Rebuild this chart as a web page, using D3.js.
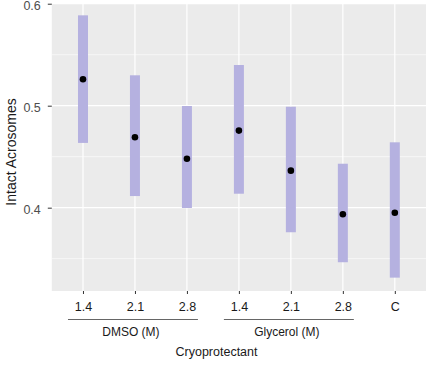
<!DOCTYPE html>
<html><head><meta charset="utf-8">
<script src="https://cdn.jsdelivr.net/npm/d3@7"></script>
<style>body{margin:0;background:#fff}svg{display:block}text{font-family:"Liberation Sans",Arial,sans-serif;}</style>
</head><body>
<svg id="c" width="426" height="368"></svg>
<script>
const categories = ["DMSO 1.4","DMSO 2.1","DMSO 2.8","Glycerol 1.4","Glycerol 2.1","Glycerol 2.8","C"];
const tickLabels = ["1.4","2.1","2.8","1.4","2.1","2.8","C"];
const means = [0.526, 0.469, 0.448, 0.4756, 0.4363, 0.3935, 0.3951];
const lower = [0.4635, 0.4114, 0.3997, 0.4137, 0.3759, 0.3465, 0.3314];
const upper = [0.5886, 0.5298, 0.4997, 0.5399, 0.499, 0.4431, 0.4641];
const groups = [
  {label:"DMSO (M)", from:"DMSO 1.4", to:"DMSO 2.8"},
  {label:"Glycerol (M)", from:"Glycerol 1.4", to:"Glycerol 2.8"}
];
const yTicks = [0.4, 0.5, 0.6];
const yMinor = [0.35, 0.45, 0.55];

const svg = d3.select("#c");
const L = 51.8, R = 426, T = 3, B = 291;
const x = d3.scalePoint().domain(categories).range([L, R]).padding(0.6);
const y = d3.scaleLinear().domain([0.3183, 0.6007]).range([B, T]);

svg.append("rect").attr("x", L).attr("y", T).attr("width", R - L).attr("height", B - T).attr("fill", "#ebebeb");
svg.append("g").selectAll("line").data(yMinor).join("line")
  .attr("x1", L).attr("x2", R).attr("y1", d => y(d)).attr("y2", d => y(d))
  .attr("stroke", "#fff").attr("stroke-width", 0.6);
svg.append("g").selectAll("line").data(yTicks).join("line")
  .attr("x1", L).attr("x2", R).attr("y1", d => y(d)).attr("y2", d => y(d))
  .attr("stroke", "#fff").attr("stroke-width", 1.2);
svg.append("g").selectAll("line").data(categories).join("line")
  .attr("x1", d => x(d)).attr("x2", d => x(d)).attr("y1", T).attr("y2", B)
  .attr("stroke", "#fff").attr("stroke-width", 1.2);

const data = categories.map((c, i) => ({c, m: means[i], lo: lower[i], hi: upper[i]}));
svg.append("g").selectAll("rect").data(data).join("rect")
  .attr("x", d => x(d.c) - 5).attr("width", 10)
  .attr("y", d => y(d.hi)).attr("height", d => y(d.lo) - y(d.hi))
  .attr("fill", "#b5b1e0");
svg.append("g").selectAll("circle").data(data).join("circle")
  .attr("cx", d => x(d.c)).attr("cy", d => y(d.m)).attr("r", 3.3).attr("fill", "#000");

// y axis
const ya = svg.append("g").attr("transform", `translate(${L},0)`)
  .call(d3.axisLeft(y).tickValues(yTicks).tickSize(4).tickPadding(7).tickFormat(d3.format(".1f")));
ya.select(".domain").remove();
ya.selectAll(".tick line").attr("stroke", "#333");
ya.selectAll(".tick text").attr("fill", "#4d4d4d").attr("font-size", 12.5).attr("font-family", "Liberation Sans, Arial, sans-serif").attr("dy", "0.45em");

// x axis
const xa = svg.append("g").attr("transform", `translate(0,${B})`)
  .call(d3.axisBottom(x).tickSize(3).tickPadding(8).tickFormat((d, i) => tickLabels[i]));
xa.select(".domain").remove();
xa.selectAll(".tick line").attr("stroke", "#333");
xa.selectAll(".tick text").attr("fill", "#1a1a1a").attr("font-size", 12.5).attr("font-family", "Liberation Sans, Arial, sans-serif");

// group brackets
groups.forEach(g => {
  const x1 = x(g.from) - 15, x2 = x(g.to) + 11;
  svg.append("line").attr("x1", x1).attr("x2", x2).attr("y1", 319.5).attr("y2", 319.5)
    .attr("stroke", "#666").attr("stroke-width", 1.2);
  svg.append("text").attr("x", (x1 + x2) / 2 - 2).attr("y", 336).attr("text-anchor", "middle")
    .attr("font-size", 12).attr("fill", "#1a1a1a").text(g.label);
});

svg.append("text").attr("x", 216.5).attr("y", 356).attr("text-anchor", "middle")
  .attr("font-size", 12.5).attr("fill", "#1a1a1a").text("Cryoprotectant");
svg.append("text").attr("transform", "translate(16,152) rotate(-90)").attr("text-anchor", "middle")
  .attr("font-size", 14).attr("fill", "#1a1a1a").text("Intact Acrosomes");
</script>
</body></html>
